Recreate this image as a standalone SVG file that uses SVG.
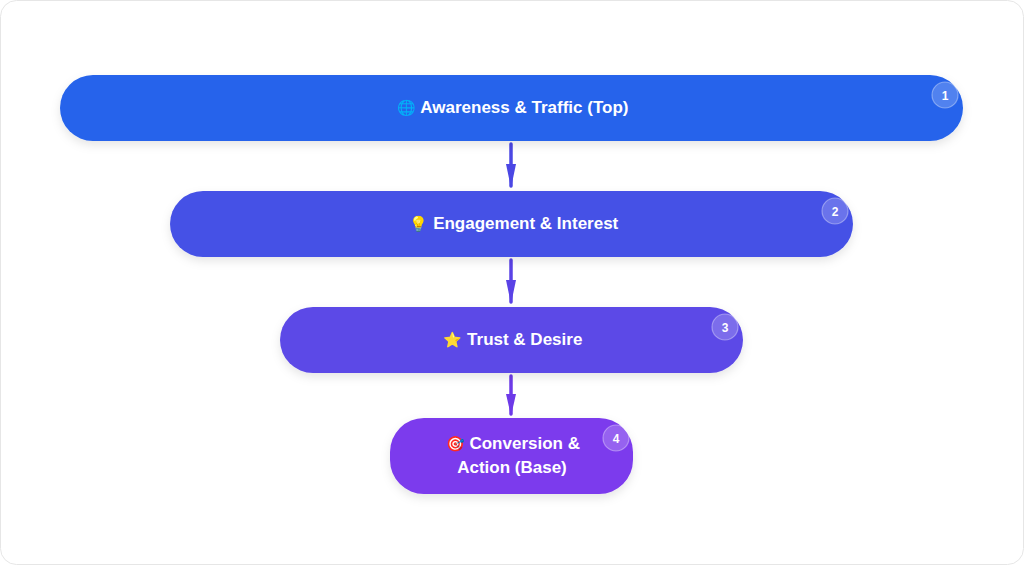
<svg xmlns="http://www.w3.org/2000/svg" width="1024" height="565" viewBox="0 0 1024 565">
<defs>
<style>
.lbl{font-family:"Liberation Sans","Noto Sans",Arial,sans-serif;font-weight:bold;font-size:17px;fill:#ffffff;text-anchor:middle}
.emo{font-family:"Noto Color Emoji","Noto Sans",sans-serif;font-size:15px}
.badge{fill:#ffffff;fill-opacity:0.2;stroke:#ffffff;stroke-opacity:0.35;stroke-width:1.2}
.bnum{font-family:"Liberation Sans",Arial,sans-serif;font-weight:bold;font-size:12px;fill:#ffffff;text-anchor:middle}
.edge{stroke-width:3.5;fill:none;stroke-linecap:round}
</style>
<filter id="sh" x="-10%" y="-30%" width="120%" height="180%">
<feDropShadow dx="0" dy="4" stdDeviation="5" flood-color="#000000" flood-opacity="0.1"/>
</filter>
</defs>
<rect x="0.5" y="0.5" width="1023" height="564" rx="16" fill="#ffffff" stroke="#e6e6e6"/>
<g id="connectors">
<g id="e1"><line class="edge" x1="511" y1="144" x2="511" y2="186" stroke="#4B47E4"/><path d="M506,164 L516,164 L511,188 Z" fill="#4B47E4"/></g>
<g id="e2"><line class="edge" x1="511" y1="260" x2="511" y2="302" stroke="#5A42E6"/><path d="M506,280 L516,280 L511,304 Z" fill="#5A42E6"/></g>
<g id="e3"><line class="edge" x1="511" y1="376" x2="511" y2="414" stroke="#6D3AE8"/><path d="M506,394 L516,394 L511,416 Z" fill="#6D3AE8"/></g>
</g>
<g id="n1">
<rect x="60" y="75" width="903" height="66" rx="33" fill="#2563EB" filter="url(#sh)"/>
<text class="lbl" x="513" y="113"><tspan class="emo">🌐</tspan>  Awareness &amp; Traffic (Top)</text>
<circle class="badge" cx="945" cy="95" r="13"/>
<text class="bnum" x="945" y="99.5">1</text>
</g>
<g id="n2">
<rect x="170" y="191" width="683" height="66" rx="33" fill="#4551E6" filter="url(#sh)"/>
<text class="lbl" x="514" y="229"><tspan class="emo">💡</tspan>  Engagement &amp; Interest</text>
<circle class="badge" cx="835" cy="211" r="13"/>
<text class="bnum" x="835" y="215.5">2</text>
</g>
<g id="n3">
<rect x="280" y="307" width="463" height="66" rx="33" fill="#5C4AE7" filter="url(#sh)"/>
<text class="lbl" x="513" y="345"><tspan class="emo">⭐</tspan>  Trust &amp; Desire</text>
<circle class="badge" cx="725" cy="327" r="13"/>
<text class="bnum" x="725" y="331.5">3</text>
</g>
<g id="n4">
<rect x="390" y="418" width="243" height="76" rx="34" fill="#7C3AED" filter="url(#sh)"/>
<text class="lbl" x="513" y="449"><tspan class="emo">🎯</tspan>  Conversion &amp;</text>
<text class="lbl" x="512" y="473">Action (Base)</text>
<circle class="badge" cx="616" cy="438" r="13"/>
<text class="bnum" x="616" y="442.5">4</text>
</g>
</svg>
